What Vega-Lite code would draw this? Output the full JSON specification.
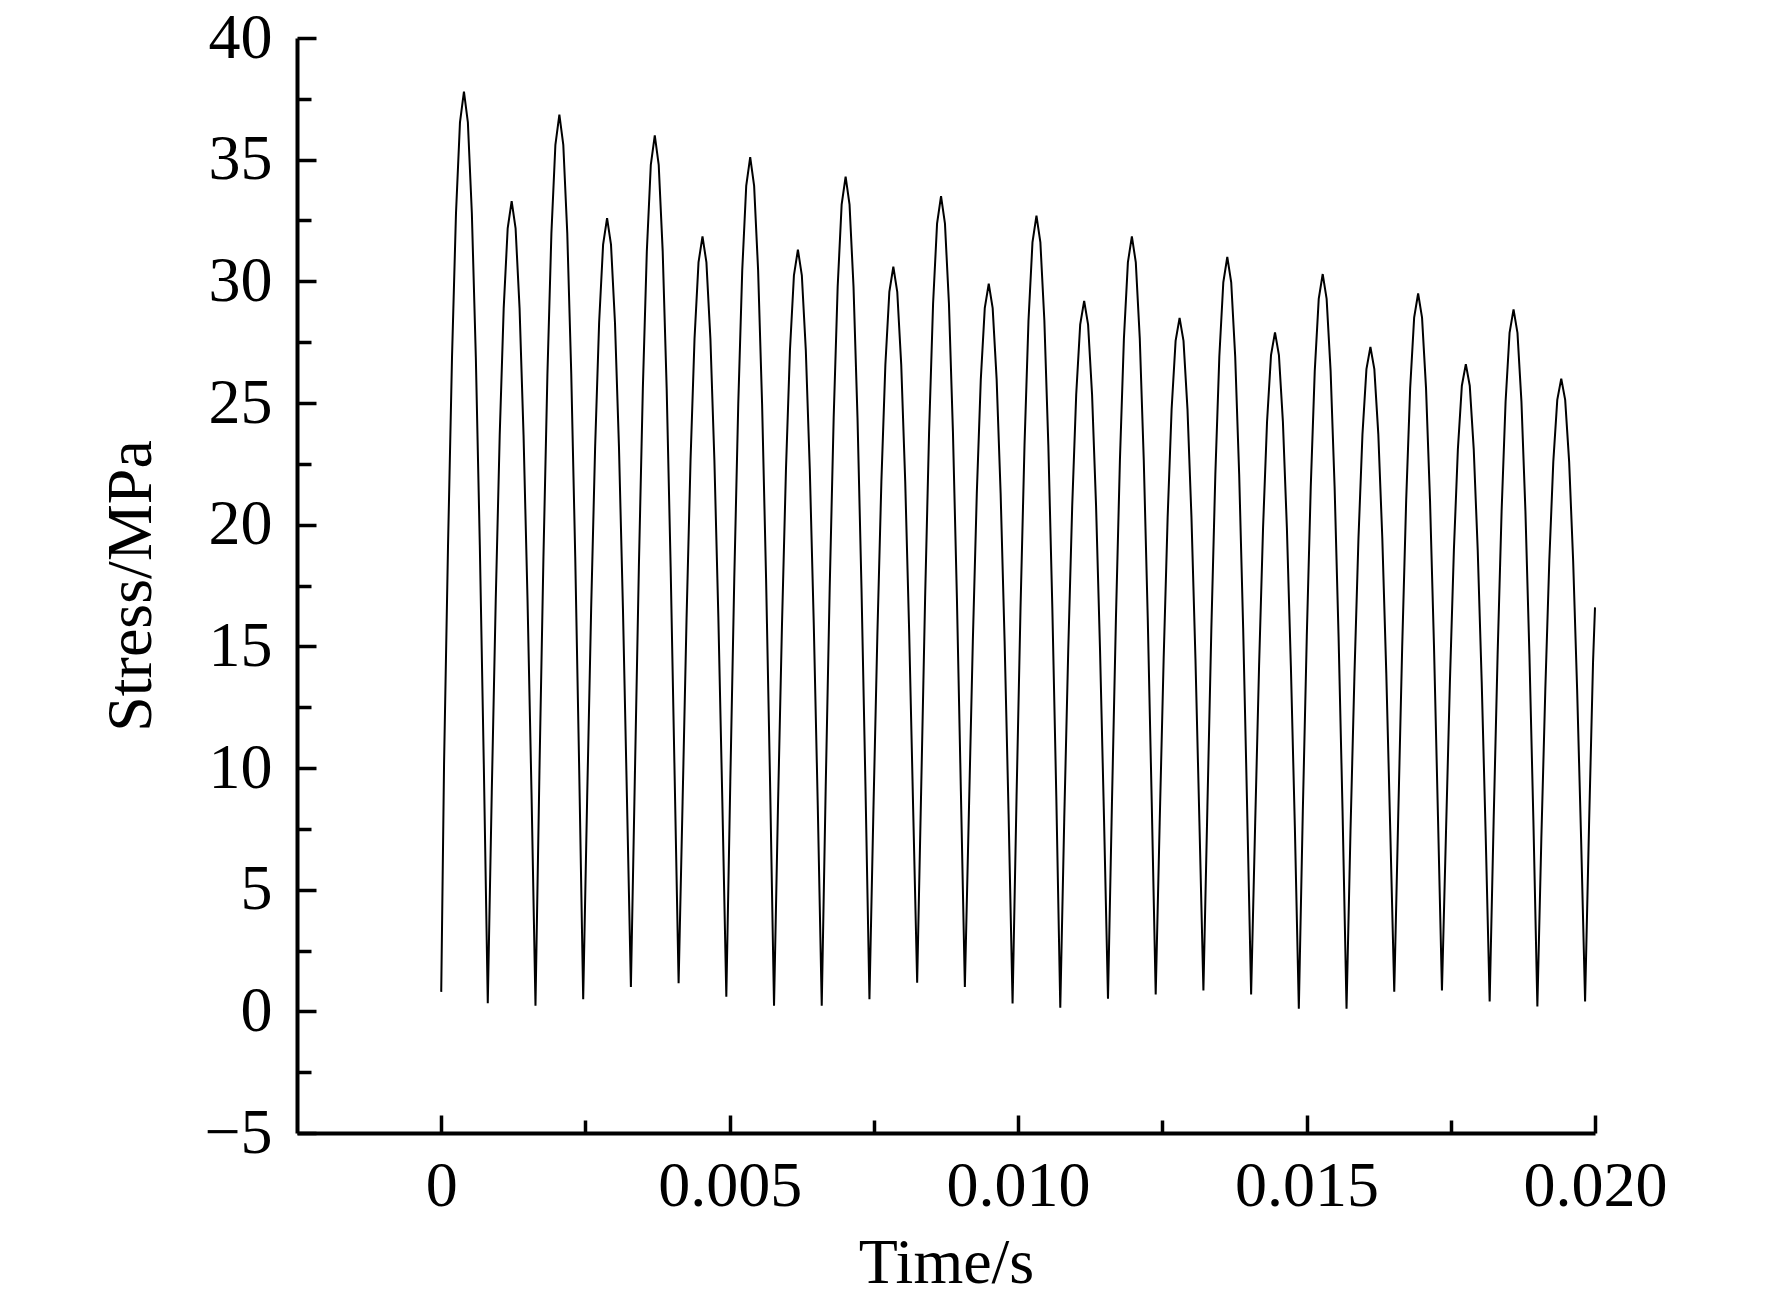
{
  "$schema": "https://vega.github.io/schema/vega-lite/v6.json",
  "description": "Stress vs time, damped alternating oscillation",
  "width": 1298,
  "height": 1095,
  "autosize": {"type": "none"},
  "padding": {"left": 297, "top": 38, "right": 177, "bottom": 176},
  "background": "white",
  "config": {
    "view": {"stroke": null},
    "font": "Liberation Serif",
    "axis": {
      "grid": false,
      "domainColor": "black",
      "domainWidth": 4,
      "tickColor": "black",
      "tickWidth": 3.5,
      "labelFont": "Liberation Serif",
      "labelFontSize": 64,
      "labelColor": "black",
      "titleFont": "Liberation Serif",
      "titleFontSize": 64,
      "titleFontWeight": "normal",
      "titleColor": "black"
    }
  },
  "data": {"values": [
    {"t":0.000000,"s":0.8},{"t":0.000049,"s":10.15},{"t":0.000118,"s":19.15},{"t":0.000187,"s":26.88},{"t":0.000256,"s":32.80},{"t":0.000325,"s":36.53},{"t":0.000394,"s":37.8},{"t":0.000462,"s":36.53},{"t":0.000531,"s":32.80},{"t":0.000600,"s":26.88},{"t":0.000669,"s":19.15},{"t":0.000738,"s":10.15},
    {"t":0.000807,"s":0.33},{"t":0.000876,"s":8.99},{"t":0.000945,"s":16.9},{"t":0.001014,"s":23.69},{"t":0.001083,"s":28.90},{"t":0.001152,"s":32.18},{"t":0.001221,"s":33.3},{"t":0.001289,"s":32.18},{"t":0.001358,"s":28.90},{"t":0.001427,"s":23.69},{"t":0.001496,"s":16.9},{"t":0.001565,"s":8.99},
    {"t":0.001634,"s":0.23},{"t":0.001703,"s":9.91},{"t":0.001772,"s":18.68},{"t":0.001841,"s":26.20},{"t":0.001910,"s":31.98},{"t":0.001979,"s":35.61},{"t":0.002048,"s":36.85},{"t":0.002116,"s":35.61},{"t":0.002185,"s":31.98},{"t":0.002254,"s":26.20},{"t":0.002323,"s":18.68},{"t":0.002392,"s":9.91},
    {"t":0.002461,"s":0.5},{"t":0.002530,"s":8.81},{"t":0.002599,"s":16.55},{"t":0.002668,"s":23.20},{"t":0.002737,"s":28.30},{"t":0.002806,"s":31.51},{"t":0.002875,"s":32.6},{"t":0.002943,"s":31.51},{"t":0.003012,"s":28.30},{"t":0.003081,"s":23.20},{"t":0.003150,"s":16.55},{"t":0.003219,"s":8.81},
    {"t":0.003288,"s":1.0},{"t":0.003357,"s":9.69},{"t":0.003426,"s":18.25},{"t":0.003495,"s":25.60},{"t":0.003564,"s":31.24},{"t":0.003633,"s":34.79},{"t":0.003702,"s":36.0},{"t":0.003770,"s":34.79},{"t":0.003839,"s":31.24},{"t":0.003908,"s":25.60},{"t":0.003977,"s":18.25},{"t":0.004046,"s":9.69},
    {"t":0.004115,"s":1.16},{"t":0.004184,"s":8.61},{"t":0.004253,"s":16.18},{"t":0.004322,"s":22.67},{"t":0.004391,"s":27.65},{"t":0.004460,"s":30.78},{"t":0.004529,"s":31.85},{"t":0.004597,"s":30.78},{"t":0.004666,"s":27.65},{"t":0.004735,"s":22.67},{"t":0.004804,"s":16.18},{"t":0.004873,"s":8.61},
    {"t":0.004942,"s":0.6},{"t":0.005011,"s":9.45},{"t":0.005080,"s":17.8},{"t":0.005149,"s":24.97},{"t":0.005218,"s":30.46},{"t":0.005287,"s":33.92},{"t":0.005356,"s":35.1},{"t":0.005424,"s":33.92},{"t":0.005493,"s":30.46},{"t":0.005562,"s":24.97},{"t":0.005631,"s":17.8},{"t":0.005700,"s":9.45},
    {"t":0.005769,"s":0.23},{"t":0.005838,"s":8.47},{"t":0.005907,"s":15.9},{"t":0.005976,"s":22.28},{"t":0.006045,"s":27.17},{"t":0.006114,"s":30.25},{"t":0.006183,"s":31.3},{"t":0.006251,"s":30.25},{"t":0.006320,"s":27.17},{"t":0.006389,"s":22.28},{"t":0.006458,"s":15.9},{"t":0.006527,"s":8.47},
    {"t":0.006596,"s":0.23},{"t":0.006665,"s":9.25},{"t":0.006734,"s":17.4},{"t":0.006803,"s":24.40},{"t":0.006872,"s":29.77},{"t":0.006941,"s":33.15},{"t":0.007010,"s":34.3},{"t":0.007078,"s":33.15},{"t":0.007147,"s":29.77},{"t":0.007216,"s":24.40},{"t":0.007285,"s":17.4},{"t":0.007354,"s":9.25},
    {"t":0.007423,"s":0.5},{"t":0.007492,"s":8.29},{"t":0.007561,"s":15.55},{"t":0.007630,"s":21.78},{"t":0.007699,"s":26.57},{"t":0.007768,"s":29.57},{"t":0.007837,"s":30.6},{"t":0.007905,"s":29.57},{"t":0.007974,"s":26.57},{"t":0.008043,"s":21.78},{"t":0.008112,"s":15.55},{"t":0.008181,"s":8.29},
    {"t":0.008250,"s":1.18},{"t":0.008319,"s":9.04},{"t":0.008388,"s":17.0},{"t":0.008457,"s":23.83},{"t":0.008526,"s":29.08},{"t":0.008595,"s":32.37},{"t":0.008664,"s":33.5},{"t":0.008732,"s":32.37},{"t":0.008801,"s":29.08},{"t":0.008870,"s":23.83},{"t":0.008939,"s":17.0},{"t":0.009008,"s":9.04},
    {"t":0.009077,"s":1.0},{"t":0.009146,"s":8.11},{"t":0.009215,"s":15.2},{"t":0.009284,"s":21.29},{"t":0.009353,"s":25.96},{"t":0.009422,"s":28.90},{"t":0.009491,"s":29.9},{"t":0.009559,"s":28.90},{"t":0.009628,"s":25.96},{"t":0.009697,"s":21.29},{"t":0.009766,"s":15.2},{"t":0.009835,"s":8.11},
    {"t":0.009904,"s":0.32},{"t":0.009973,"s":8.83},{"t":0.010042,"s":16.6},{"t":0.010111,"s":23.27},{"t":0.010180,"s":28.39},{"t":0.010249,"s":31.60},{"t":0.010318,"s":32.7},{"t":0.010386,"s":31.60},{"t":0.010455,"s":28.39},{"t":0.010524,"s":23.27},{"t":0.010593,"s":16.6},{"t":0.010662,"s":8.83},
    {"t":0.010731,"s":0.15},{"t":0.010800,"s":7.93},{"t":0.010869,"s":14.85},{"t":0.010938,"s":20.79},{"t":0.011007,"s":25.35},{"t":0.011076,"s":28.22},{"t":0.011145,"s":29.2},{"t":0.011213,"s":28.22},{"t":0.011282,"s":25.35},{"t":0.011351,"s":20.79},{"t":0.011420,"s":14.85},{"t":0.011489,"s":7.93},
    {"t":0.011558,"s":0.52},{"t":0.011627,"s":8.61},{"t":0.011696,"s":16.18},{"t":0.011765,"s":22.67},{"t":0.011834,"s":27.65},{"t":0.011903,"s":30.78},{"t":0.011972,"s":31.85},{"t":0.012040,"s":30.78},{"t":0.012109,"s":27.65},{"t":0.012178,"s":22.67},{"t":0.012247,"s":16.18},{"t":0.012316,"s":8.61},
    {"t":0.012385,"s":0.69},{"t":0.012454,"s":7.75},{"t":0.012523,"s":14.5},{"t":0.012592,"s":20.30},{"t":0.012661,"s":24.75},{"t":0.012730,"s":27.55},{"t":0.012799,"s":28.5},{"t":0.012867,"s":27.55},{"t":0.012936,"s":24.75},{"t":0.013005,"s":20.30},{"t":0.013074,"s":14.5},{"t":0.013143,"s":7.75},
    {"t":0.013212,"s":0.86},{"t":0.013281,"s":8.39},{"t":0.013350,"s":15.75},{"t":0.013419,"s":22.07},{"t":0.013488,"s":26.91},{"t":0.013557,"s":29.96},{"t":0.013626,"s":31.0},{"t":0.013694,"s":29.96},{"t":0.013763,"s":26.91},{"t":0.013832,"s":22.07},{"t":0.013901,"s":15.75},{"t":0.013970,"s":8.39},
    {"t":0.014039,"s":0.69},{"t":0.014108,"s":7.59},{"t":0.014177,"s":14.2},{"t":0.014246,"s":19.87},{"t":0.014315,"s":24.23},{"t":0.014384,"s":26.97},{"t":0.014453,"s":27.9},{"t":0.014521,"s":26.97},{"t":0.014590,"s":24.23},{"t":0.014659,"s":19.87},{"t":0.014728,"s":14.2},{"t":0.014797,"s":7.59},
    {"t":0.014866,"s":0.11},{"t":0.014935,"s":8.21},{"t":0.015004,"s":15.4},{"t":0.015073,"s":21.57},{"t":0.015142,"s":26.31},{"t":0.015211,"s":29.28},{"t":0.015280,"s":30.3},{"t":0.015348,"s":29.28},{"t":0.015417,"s":26.31},{"t":0.015486,"s":21.57},{"t":0.015555,"s":15.4},{"t":0.015624,"s":8.21},
    {"t":0.015693,"s":0.11},{"t":0.015762,"s":7.44},{"t":0.015831,"s":13.9},{"t":0.015900,"s":19.45},{"t":0.015969,"s":23.71},{"t":0.016038,"s":26.39},{"t":0.016107,"s":27.3},{"t":0.016175,"s":26.39},{"t":0.016244,"s":23.71},{"t":0.016313,"s":19.45},{"t":0.016382,"s":13.9},{"t":0.016451,"s":7.44},
    {"t":0.016520,"s":0.81},{"t":0.016589,"s":8.01},{"t":0.016658,"s":15.0},{"t":0.016727,"s":21.01},{"t":0.016796,"s":25.61},{"t":0.016865,"s":28.51},{"t":0.016934,"s":29.5},{"t":0.017002,"s":28.51},{"t":0.017071,"s":25.61},{"t":0.017140,"s":21.01},{"t":0.017209,"s":15.0},{"t":0.017278,"s":8.01},
    {"t":0.017347,"s":0.86},{"t":0.017416,"s":7.25},{"t":0.017485,"s":13.55},{"t":0.017554,"s":18.96},{"t":0.017623,"s":23.10},{"t":0.017692,"s":25.71},{"t":0.017761,"s":26.6},{"t":0.017829,"s":25.71},{"t":0.017898,"s":23.10},{"t":0.017967,"s":18.96},{"t":0.018036,"s":13.55},{"t":0.018105,"s":7.25},
    {"t":0.018174,"s":0.41},{"t":0.018243,"s":7.84},{"t":0.018312,"s":14.68},{"t":0.018381,"s":20.55},{"t":0.018450,"s":25.05},{"t":0.018519,"s":27.88},{"t":0.018588,"s":28.85},{"t":0.018656,"s":27.88},{"t":0.018725,"s":25.05},{"t":0.018794,"s":20.55},{"t":0.018863,"s":14.68},{"t":0.018932,"s":7.84},
    {"t":0.019001,"s":0.2},{"t":0.019070,"s":7.10},{"t":0.019139,"s":13.25},{"t":0.019208,"s":18.53},{"t":0.019277,"s":22.58},{"t":0.019346,"s":25.13},{"t":0.019415,"s":26.0},{"t":0.019483,"s":25.13},{"t":0.019552,"s":22.58},{"t":0.019621,"s":18.53},{"t":0.019690,"s":13.25},{"t":0.019759,"s":7.10},
    {"t":0.019828,"s":0.41},{"t":0.019897,"s":7.67},{"t":0.019966,"s":14.35},{"t":0.020000,"s":16.6}
  ]},
  "layer": [
    {
      "mark": {"type": "line", "color": "black", "strokeWidth": 2},
      "encoding": {
        "x": {
          "field": "t",
          "type": "quantitative",
          "scale": {"domain": [-0.0025, 0.02], "nice": false, "zero": false},
          "axis": {
            "orient": "bottom",
            "title": "Time/s",
            "values": [0, 0.005, 0.01, 0.015, 0.02],
            "labelExpr": "datum.value == 0 ? '0' : format(datum.value, '.3f')",
            "tickSize": -18,
            "labelPadding": 39,
            "labelFlush": false,
            "labelOverlap": false,
            "titlePadding": 13
          }
        },
        "y": {
          "field": "s",
          "type": "quantitative",
          "scale": {"domain": [-5, 40], "nice": false, "zero": false},
          "axis": {
            "orient": "left",
            "title": "Stress/MPa",
            "values": [-5, 0, 5, 10, 15, 20, 25, 30, 35, 40],
            "tickSize": -19,
            "labelPadding": 44,
            "labelFlush": false,
            "labelOverlap": false,
            "titlePadding": 40
          }
        }
      }
    },
    {
      "mark": {"type": "point", "opacity": 0},
      "encoding": {
        "x": {
          "field": "t",
          "type": "quantitative",
          "axis": {
            "orient": "bottom",
            "title": null,
            "values": [0.0025, 0.0075, 0.0125, 0.0175],
            "labels": false,
            "domain": false,
            "tickSize": -13
          }
        },
        "y": {
          "field": "s",
          "type": "quantitative",
          "axis": {
            "orient": "left",
            "title": null,
            "values": [-2.5, 2.5, 7.5, 12.5, 17.5, 22.5, 27.5, 32.5, 37.5],
            "labels": false,
            "domain": false,
            "tickSize": -14
          }
        }
      }
    }
  ],
  "resolve": {"axis": {"x": "independent", "y": "independent"}}
}
